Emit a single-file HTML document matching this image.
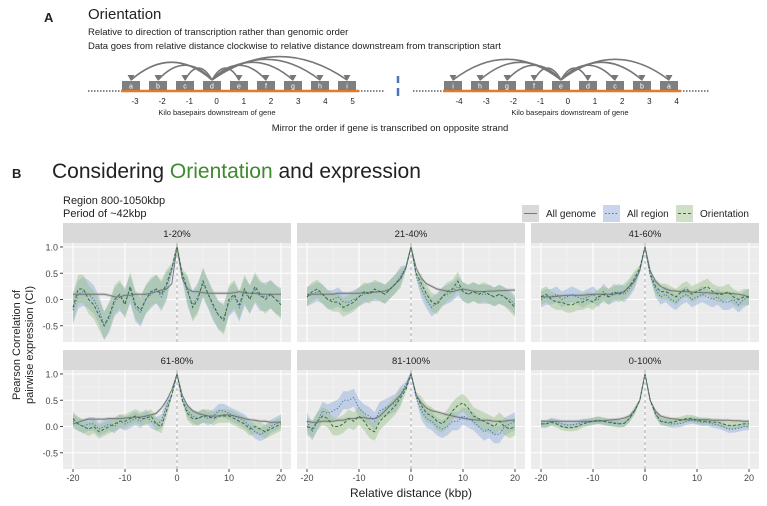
<!DOCTYPE html>
<html><head><meta charset="utf-8">
<style>
body{margin:0;background:#fff;width:767px;height:506px;overflow:hidden;font-family:"Liberation Sans",sans-serif;}
svg{display:block}
</style></head>
<body>
<svg id="fig" width="767" height="506" viewBox="0 0 767 506" xmlns="http://www.w3.org/2000/svg">
<g font-family="Liberation Sans, sans-serif" fill="#222">
<text x="44" y="22" font-size="13" font-weight="bold">A</text>
<text x="88" y="19" font-size="15">Orientation</text>
<text x="88" y="35" font-size="9.5">Relative to direction of transcription rather than genomic order</text>
<text x="88" y="49" font-size="9.5">Data goes from relative distance clockwise to relative distance downstream from transcription start</text>
<g id="diagram"></g>
<line x1="398" y1="76" x2="398" y2="83" stroke="#4a74b4" stroke-width="2.5"/>
<line x1="398" y1="88" x2="398" y2="96" stroke="#4a74b4" stroke-width="2.5"/>
<text x="217" y="115" font-size="7.5" text-anchor="middle">Kilo basepairs downstream of gene</text>
<text x="570" y="115" font-size="7.5" text-anchor="middle">Kilo basepairs downstream of gene</text>
<text x="390" y="131" font-size="9.5" text-anchor="middle">Mirror the order if gene is transcribed on opposite strand</text>
</g>
<text x="12" y="178" font-size="13" font-weight="bold" fill="#222">B</text>
<text x="52" y="178" font-size="21" fill="#222">Considering <tspan fill="#3f8a2e">Orientation</tspan> and expression</text>
<text x="63" y="204" font-size="11" fill="#222">Region 800-1050kbp</text>
<text x="63" y="217" font-size="11" fill="#222">Period of ~42kbp</text>
<g font-size="10" fill="#222">
<rect x="522" y="205" width="17" height="17" fill="#d9d9d9"/><line x1="524" y1="213.5" x2="537" y2="213.5" stroke="#777" stroke-width="1"/>
<text x="546" y="217">All genome</text>
<rect x="603" y="205" width="17" height="17" fill="#c9d5ea"/><line x1="605" y1="213.5" x2="618" y2="213.5" stroke="#4a6fb5" stroke-width="1" stroke-dasharray="1.5,2"/>
<text x="627" y="217">All region</text>
<rect x="676" y="205" width="17" height="17" fill="#cfe0c6"/><line x1="678" y1="213.5" x2="691" y2="213.5" stroke="#3b6b3b" stroke-width="1" stroke-dasharray="3,2"/>
<text x="700" y="217">Orientation</text>
</g>
<g id="panels"></g>
<text transform="translate(20,345) rotate(-90)" font-size="11" text-anchor="middle" fill="#222">Pearson Correlation of</text>
<text transform="translate(33,345) rotate(-90)" font-size="11" text-anchor="middle" fill="#222">pairwise expression (CI)</text>
<text x="411" y="497" font-size="12" text-anchor="middle" fill="#222">Relative distance (kbp)</text>
</svg>
<script>
const NS="http://www.w3.org/2000/svg";
const panelNames=["1-20%","21-40%","41-60%","61-80%","81-100%","0-100%"];
const xTicks=[-20,-10,0,10,20];
const yTicks=[1.0,0.5,0.0,-0.5];
const yTickLabels=["1.0","0.5","0.0","-0.5"];
const bandWidth=[0.27,0.18,0.15,0.13,0.17,0.07];
// values at x = -20..20 step 1
const genome=[
[0.1,0.1,0.1,0.1,0.1,0.1,0.1,0.08,0.05,0.05,0.08,0.08,0.1,0.1,0.1,0.12,0.15,0.18,0.2,0.3,1.0,0.4,0.2,0.15,0.15,0.13,0.12,0.12,0.12,0.12,0.12,0.13,0.15,0.13,0.12,0.12,0.1,0.1,0.1,0.1,0.1],
[0.1,0.1,0.1,0.1,0.1,0.1,0.12,0.12,0.12,0.12,0.12,0.13,0.13,0.14,0.15,0.16,0.2,0.3,0.4,0.6,1.0,0.6,0.4,0.3,0.25,0.2,0.18,0.16,0.15,0.18,0.2,0.18,0.16,0.15,0.15,0.16,0.16,0.17,0.17,0.18,0.18],
[0.05,0.05,0.05,0.06,0.07,0.08,0.08,0.08,0.08,0.09,0.1,0.1,0.1,0.1,0.1,0.12,0.15,0.25,0.35,0.55,1.0,0.55,0.35,0.25,0.2,0.17,0.16,0.15,0.15,0.14,0.14,0.13,0.13,0.12,0.12,0.12,0.12,0.11,0.1,0.08,0.05],
[0.05,0.08,0.12,0.14,0.14,0.14,0.14,0.15,0.15,0.15,0.16,0.17,0.18,0.18,0.2,0.22,0.25,0.35,0.5,0.7,1.0,0.6,0.4,0.3,0.25,0.22,0.2,0.2,0.2,0.22,0.22,0.2,0.18,0.15,0.13,0.12,0.1,0.1,0.08,0.08,0.08],
[0.1,0.08,0.08,0.1,0.1,0.1,0.12,0.12,0.15,0.15,0.17,0.17,0.15,0.15,0.2,0.3,0.4,0.5,0.6,0.75,1.0,0.6,0.45,0.35,0.3,0.28,0.25,0.22,0.2,0.18,0.16,0.14,0.13,0.12,0.12,0.12,0.1,0.1,0.1,0.12,0.12],
[0.1,0.1,0.1,0.1,0.1,0.1,0.1,0.1,0.1,0.1,0.1,0.1,0.11,0.12,0.13,0.14,0.16,0.2,0.3,0.5,1.0,0.5,0.3,0.2,0.17,0.15,0.14,0.13,0.13,0.13,0.13,0.13,0.13,0.12,0.12,0.12,0.12,0.11,0.11,0.1,0.1]];
const region=[
[-0.2,0.1,0.15,0.1,0.0,-0.2,-0.5,-0.35,-0.05,0.05,-0.05,0.2,-0.15,-0.25,0.0,0.1,0.2,0.05,0.25,0.55,1.0,0.45,0.15,-0.1,0.05,0.3,0.1,-0.15,-0.3,-0.35,-0.05,0.05,-0.15,0.15,0.0,0.2,0.05,0.05,0.1,0.0,-0.05],
[0.05,0.1,0.15,0.1,0.0,0.0,0.05,-0.05,-0.05,0.0,0.05,0.1,0.15,0.15,0.15,0.1,0.2,0.3,0.45,0.6,1.0,0.45,0.2,0.0,-0.15,-0.05,0.05,0.1,0.15,0.25,0.15,0.1,0.15,0.1,0.1,0.1,0.05,0.1,0.05,0.0,-0.1],
[0.0,0.05,0.05,0.1,0.0,0.05,0.1,0.05,0.0,0.05,0.1,0.0,0.15,0.05,0.1,0.15,0.1,0.2,0.35,0.55,1.0,0.45,0.2,0.05,0.1,0.0,-0.05,0.05,0.1,0.0,0.05,0.1,0.05,0.0,0.05,-0.05,-0.05,0.0,-0.1,0.0,0.05],
[0.1,0.05,0.0,0.05,0.05,-0.05,0.0,0.05,0.0,0.1,0.05,0.1,0.15,0.1,0.2,0.1,0.05,0.1,0.4,0.6,1.0,0.55,0.3,0.2,0.15,0.2,0.15,0.2,0.3,0.3,0.25,0.2,0.15,0.1,0.0,-0.1,-0.15,-0.1,0.0,0.05,0.1],
[0.1,-0.1,0.1,0.3,0.25,0.3,0.35,0.5,0.5,0.55,0.35,0.25,0.2,0.1,0.3,0.35,0.4,0.45,0.6,0.8,1.0,0.55,0.3,0.15,0.1,0.0,-0.05,0.0,0.1,0.1,0.2,0.15,0.1,0.0,-0.1,-0.05,-0.15,-0.15,0.0,0.05,0.1],
[0.05,0.05,0.1,0.08,0.05,0.03,0.03,0.05,0.08,0.08,0.1,0.12,0.1,0.08,0.08,0.06,0.06,0.15,0.3,0.5,1.0,0.5,0.25,0.1,0.08,0.05,0.05,0.06,0.1,0.12,0.1,0.08,0.08,0.05,0.03,0.0,-0.05,-0.05,-0.03,0.0,0.0]];
const orient=[
[-0.15,0.2,0.2,0.0,-0.1,-0.3,-0.5,-0.3,0.0,0.1,-0.1,0.25,-0.1,-0.2,0.0,0.15,0.2,0.1,0.3,0.6,1.0,0.5,0.2,-0.15,0.0,0.35,0.1,-0.1,-0.3,-0.4,0.0,0.1,-0.1,0.2,0.0,0.25,0.1,0.0,0.1,0.0,-0.1],
[0.05,0.15,0.2,0.1,0.0,-0.05,-0.05,-0.15,-0.1,-0.05,0.05,0.15,0.1,0.2,0.15,0.1,0.2,0.3,0.4,0.6,1.0,0.5,0.3,0.1,-0.05,-0.1,0.05,0.15,0.2,0.35,0.15,0.1,0.15,0.1,0.15,0.1,0.05,0.1,0.05,-0.05,-0.15],
[0.05,0.1,0.0,-0.05,-0.05,-0.1,-0.1,-0.05,-0.05,0.0,-0.05,0.05,0.1,0.05,0.15,0.1,0.15,0.25,0.4,0.6,1.0,0.5,0.25,0.15,0.15,0.1,0.05,0.15,0.2,0.1,0.15,0.2,0.25,0.15,0.1,0.1,0.15,0.05,0.0,0.05,0.05],
[0.15,0.05,0.0,-0.05,0.0,-0.1,-0.05,0.0,0.05,0.1,0.1,0.15,0.2,0.15,0.15,0.2,0.05,0.0,0.3,0.6,1.0,0.5,0.25,0.15,0.15,0.2,0.2,0.15,0.2,0.2,0.2,0.15,0.1,0.05,-0.05,0.0,-0.05,-0.1,-0.05,0.0,0.05],
[0.0,-0.05,0.1,0.2,0.15,0.0,0.0,0.05,0.15,0.1,0.2,0.1,-0.05,-0.1,0.1,0.2,0.3,0.4,0.55,0.7,1.0,0.6,0.4,0.25,0.2,0.1,0.05,0.15,0.3,0.4,0.45,0.35,0.2,0.15,0.1,0.05,0.0,0.1,0.0,-0.05,0.0],
[0.05,0.05,0.08,0.05,0.0,-0.02,-0.02,0.0,0.05,0.08,0.1,0.12,0.1,0.08,0.06,0.05,0.06,0.15,0.3,0.5,1.0,0.5,0.25,0.1,0.08,0.08,0.1,0.12,0.15,0.15,0.12,0.1,0.1,0.08,0.08,0.05,0.02,0.02,0.03,0.05,0.05]];

function el(tag,attrs,parent){const e=document.createElementNS(NS,tag);for(const k in attrs)e.setAttribute(k,attrs[k]);parent.appendChild(e);return e;}
const panelsG=document.getElementById('panels');
const colX=[63,297,531], PW=228;
const rowStripY=[223,350], SH=20, PH=99;
for(let p=0;p<6;p++){
  const c=p%3,r=Math.floor(p/3);
  const x0=colX[c], sy=rowStripY[r], py=sy+SH;
  const xs=v=>x0+10+(v+20)/40*(PW-20);
  const ys=v=>py+4+(1.0-v)*52.5;
  const g=el('g',{},panelsG);
  
  
  const strip=el('rect',{x:x0,y:sy,width:PW,height:SH,fill:'#d9d9d9'},g);
  
  
  const st=el('text',{x:x0+PW/2,y:sy+14,'font-size':9.5,'text-anchor':'middle',fill:'#222'},g);st.textContent=panelNames[p];
  
  
  const bg=el('rect',{x:x0,y:py,width:PW,height:PH,fill:'#ebebeb'},g);
  
  
  const clip=el('clipPath',{id:'cp'+p},g);el('rect',{x:x0,y:py,width:PW,height:PH},clip);
  for(let v=-15;v<=15;v+=10){el('line',{x1:xs(v),x2:xs(v),y1:py,y2:py+PH,stroke:'#f5f5f5','stroke-width':0.6},g);}
  for(let v=-0.75;v<=1;v+=0.5){el('line',{x1:x0,x2:x0+PW,y1:ys(v),y2:ys(v),stroke:'#f5f5f5','stroke-width':0.6},g);}
  xTicks.forEach(v=>el('line',{x1:xs(v),x2:xs(v),y1:py,y2:py+PH,stroke:'#fff','stroke-width':1.1},g));
  yTicks.forEach(v=>el('line',{x1:x0,x2:x0+PW,y1:ys(v),y2:ys(v),stroke:'#fff','stroke-width':1.1},g));
  const data=g.appendChild(document.createElementNS(NS,'g'));data.setAttribute('clip-path','url(#cp'+p+')');
  const series=[[genome[p],'#777','none','rgba(160,160,160,0.35)',0.03,'series-all-genome'],[region[p],'#4a6fb5','1.2,1.8','rgba(140,170,220,0.45)',bandWidth[p],'series-all-region'],[orient[p],'#3b6b3b','3,2','rgba(150,190,130,0.45)',bandWidth[p],'series-orientation']];
  series.forEach(s=>{
    const vals=s[0],w=s[4];
    let up='',dn='';
    vals.forEach((v,i)=>{const xv=i-20;const ww=Math.abs(xv)<=1?w*0.3:w;up+=(i?'L':'M')+xs(xv).toFixed(1)+','+ys(v+ww).toFixed(1);});
    for(let i=vals.length-1;i>=0;i--){const xv=i-20;const ww=Math.abs(xv)<=1?w*0.3:w;dn+='L'+xs(xv).toFixed(1)+','+ys(vals[i]-ww).toFixed(1);}
    const band=el('path',{d:up+dn+'Z',fill:s[3],stroke:'none'},data);
    
    
  });
  series.forEach(s=>{
    let d='';s[0].forEach((v,i)=>{d+=(i?'L':'M')+xs(i-20).toFixed(1)+','+ys(v).toFixed(1);});
    const ln=el('path',{d:d,fill:'none',stroke:s[1],'stroke-width':1,'stroke-dasharray':s[2]},data);
    
    
  });
  el('line',{x1:xs(0),x2:xs(0),y1:py,y2:py+PH,stroke:'#999','stroke-width':0.8,'stroke-dasharray':'3,3'},data);
  if(c===0){yTicks.forEach((v,i)=>{el('line',{x1:x0-3,x2:x0,y1:ys(v),y2:ys(v),stroke:'#444'},g);const t=el('text',{x:x0-5,y:ys(v)+3.5,'font-size':9,'text-anchor':'end',fill:'#444'},g);t.textContent=yTickLabels[i];
    
    });}
  if(r===1){xTicks.forEach(v=>{el('line',{x1:xs(v),x2:xs(v),y1:py+PH,y2:py+PH+3,stroke:'#444'},g);const t=el('text',{x:xs(v),y:py+PH+12,'font-size':9,'text-anchor':'middle',fill:'#444'},g);t.textContent=v;
    
    });}
}
// diagram
const dg=document.getElementById('diagram');
const leftLabels=["a","b","c","d","e","f","g","h","i"], leftNums=["-3","-2","-1","0","1","2","3","4","5"];
const rightLabels=["i","h","g","f","e","d","c","b","a"], rightNums=["-4","-3","-2","-1","0","1","2","3","4"];
function strand(x0,x1,labels,nums,boxX0,step,src,numX0){
  el('line',{x1:x0,x2:x1,y1:91,y2:91,stroke:'#888','stroke-width':2,'stroke-dasharray':'1.5,1.5'},dg);
  el('line',{x1:boxX0-10,x2:boxX0+step*8+12,y1:91,y2:91,stroke:'#e07a2c','stroke-width':2.5},dg);
  labels.forEach((l,i)=>{const bx=boxX0+i*step;
    el('rect',{x:bx-9,y:81,width:18,height:9,fill:'#7f7f7f'},dg);
    const t=el('text',{x:bx,y:88.5,'font-size':7,'text-anchor':'middle',fill:'#fff'},dg);t.textContent=l;
    
    
    if(i!==src){const sx=boxX0+src*step;const mx=(sx+bx)/2;const h=Math.min(26,10+Math.abs(bx-sx)*0.12);
      el('path',{d:'M'+sx+',80 Q'+mx+','+(80-h*1.8)+' '+bx+',80',fill:'none',stroke:'#777','stroke-width':1.6},dg);
      el('path',{d:'M'+(bx-3.5)+',75 L'+bx+',81 L'+(bx+3.5)+',75Z',fill:'#777'},dg);}
  });
  nums.forEach((n,i)=>{const t=el('text',{x:numX0+i*27.2,y:104,'font-size':8,'text-anchor':'middle',fill:'#222'},dg);t.textContent=n;
    
    });
}
strand(88,385,leftLabels,leftNums,131,27,3,135);
strand(413,710,rightLabels,rightNums,453,27,4,459);
</script>
</body></html>
